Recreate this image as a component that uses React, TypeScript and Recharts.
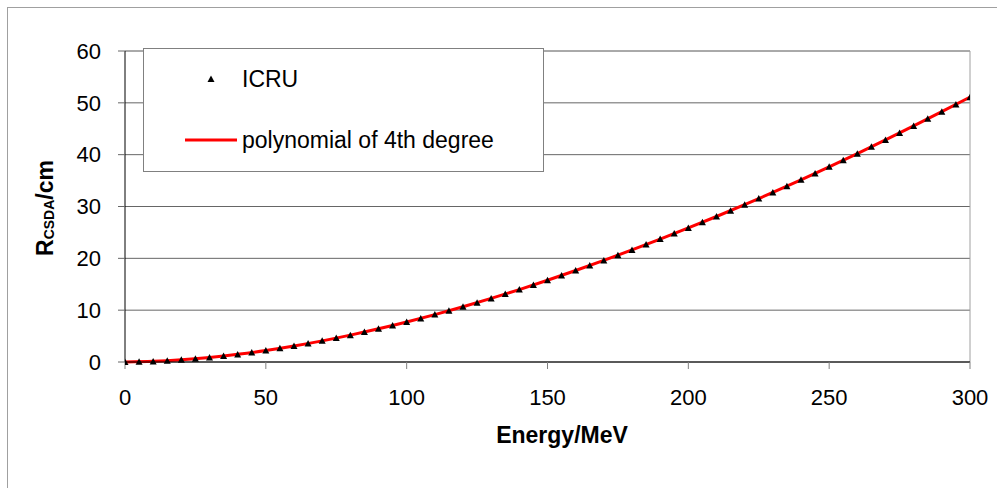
import {
  CartesianGrid,
  ComposedChart,
  Legend,
  Line,
  ReferenceLine,
  Scatter,
  XAxis,
  YAxis,
} from "recharts";

// ICRU CSDA range of protons in water, every 5 MeV
const energies = [
  0, 5, 10, 15, 20, 25, 30, 35, 40, 45, 50, 55, 60, 65, 70, 75, 80, 85, 90, 95,
  100, 105, 110, 115, 120, 125, 130, 135, 140, 145, 150, 155, 160, 165, 170,
  175, 180, 185, 190, 195, 200, 205, 210, 215, 220, 225, 230, 235, 240, 245,
  250, 255, 260, 265, 270, 275, 280, 285, 290, 295, 300,
];
const icruRange = [
  0, 0.04, 0.12, 0.25, 0.43, 0.64, 0.89, 1.17, 1.47, 1.83, 2.23, 2.65, 3.09,
  3.57, 4.08, 4.62, 5.18, 5.78, 6.4, 7.05, 7.72, 8.41, 9.14, 9.89, 10.66, 11.45,
  12.27, 13.11, 13.98, 14.86, 15.77, 16.7, 17.65, 18.61, 19.6, 20.61, 21.63,
  22.67, 23.73, 24.78, 25.85, 26.95, 28.06, 29.2, 30.35, 31.52, 32.72, 33.93,
  35.15, 36.39, 37.65, 38.92, 40.2, 41.52, 42.85, 44.19, 45.55, 46.92, 48.3,
  49.7, 51.1,
];

// 4th degree polynomial fit, sampled every 10 MeV
const fitEnergies = [
  0, 10, 20, 30, 40, 50, 60, 70, 80, 90, 100, 110, 120, 130, 140, 150, 160,
  170, 180, 190, 200, 210, 220, 230, 240, 250, 260, 270, 280, 290, 300,
];
const fitRange = [
  0.02, 0.13, 0.42, 0.88, 1.48, 2.22, 3.09, 4.08, 5.19, 6.4, 7.72, 9.14, 10.66,
  12.27, 13.97, 15.77, 17.65, 19.6, 21.63, 23.72, 25.86, 28.07, 30.35, 32.71,
  35.15, 37.65, 40.21, 42.85, 45.55, 48.31, 51.1,
];

const xTicks = [0, 50, 100, 150, 200, 250, 300];
const yTicks = [0, 10, 20, 30, 40, 50, 60];

const icruData = energies.map((e, i) => ({ energy: e, range: icruRange[i] }));
const fitData = fitEnergies.map((e, i) => ({ energy: e, range: fitRange[i] }));

const FONT = "Arial, 'Liberation Sans', sans-serif";

const Triangle = (props: any) => {
  const { cx, cy } = props;
  if (cx == null || cy == null) return null;
  return (
    <polygon
      points={`${cx},${cy - 3.5} ${cx + 3.5},${cy + 3} ${cx - 3.5},${cy + 3}`}
      fill="#000"
    />
  );
};

const LegendBox = () => (
  <div
    style={{
      width: 401,
      height: 124,
      boxSizing: "border-box",
      border: "1px solid #808080",
      background: "#fff",
    }}
  >
    <svg width={399} height={122} style={{ display: "block" }}>
      <polygon points="67,26.5 70.5,33 63.5,33" fill="#000" />
      <text x={98} y={30} dominantBaseline="central" fontSize={23} fontFamily={FONT}>
        ICRU
      </text>
      <line x1={41} y1={91} x2={93} y2={91} stroke="#ff0000" strokeWidth={3} />
      <text x={98} y={91} dominantBaseline="central" fontSize={23} fontFamily={FONT}>
        polynomial of 4th degree
      </text>
    </svg>
  </div>
);

const YLabel = () => (
  <text
    transform="translate(53, 208) rotate(-90)"
    textAnchor="middle"
    fontFamily={FONT}
    fontWeight="bold"
    fontSize={23}
    fill="#000"
  >
    R
    <tspan fontSize={14} dy={1}>
      CSDA
    </tspan>
    <tspan dy={-1}>/cm</tspan>
  </text>
);

export default function App() {
  return (
    <div
      style={{
        position: "absolute",
        left: 0,
        top: 0,
        width: 997,
        height: 488,
        overflow: "hidden",
        background: "#fff",
      }}
    >
      <div
        style={{
          position: "absolute",
          left: 7,
          top: 7,
          width: 1100,
          height: 600,
          border: "1px solid #a0a0a0",
        }}
      />
      <ComposedChart
        width={997}
        height={488}
        margin={{ top: 51, right: 27, bottom: 66, left: 0 }}
      >
        <CartesianGrid horizontal vertical={false} stroke="#666666" />
        <XAxis
          type="number"
          dataKey="energy"
          domain={[0, 300]}
          ticks={xTicks}
          height={60}
          tickSize={7}
          tickMargin={20}
          axisLine={{ stroke: "#000" }}
          tickLine={{ stroke: "#808080" }}
          tick={{ fill: "#000", fontSize: 22, fontFamily: FONT }}
          allowDataOverflow
        />
        <YAxis
          type="number"
          dataKey="range"
          domain={[0, 60]}
          ticks={yTicks}
          width={125}
          tickSize={7}
          tickMargin={17}
          axisLine={{ stroke: "#000" }}
          tickLine={{ stroke: "#666666" }}
          tick={{ fill: "#000", fontSize: 22, fontFamily: FONT }}
          label={<YLabel />}
        />
        <ReferenceLine y={60} stroke="#a0a0a0" />
        <ReferenceLine x={300} stroke="#a0a0a0" />
        <Line
          data={fitData}
          dataKey="range"
          type="monotone"
          stroke="#ff0000"
          strokeWidth={3}
          dot={false}
          isAnimationActive={false}
          name="polynomial of 4th degree"
        />
        <Scatter
          data={icruData}
          dataKey="range"
          shape={<Triangle />}
          isAnimationActive={false}
          name="ICRU"
        />
        <Legend
          layout="horizontal"
          verticalAlign="middle"
          align="center"
          content={<LegendBox />}
          wrapperStyle={{ left: 143, top: 48, width: 401, height: 124 }}
        />
        <text
          x={562}
          y={435}
          textAnchor="middle"
          dominantBaseline="central"
          fontFamily={FONT}
          fontWeight="bold"
          fontSize={23}
          fill="#000"
        >
          Energy/MeV
        </text>
      </ComposedChart>
    </div>
  );
}
